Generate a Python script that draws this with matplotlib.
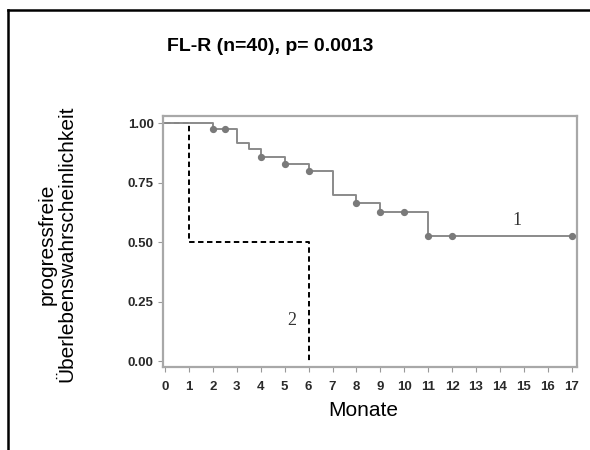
import matplotlib
matplotlib.use("Agg")
import matplotlib.pyplot as plt
from matplotlib.lines import Line2D

# Kaplan-Meier estimates, group 1
g1_times = [0, 2, 3, 3.5, 4, 5, 6, 7, 8, 9, 11, 17]
g1_surv = [1.00, 0.974, 0.918, 0.889, 0.858, 0.829, 0.800, 0.697, 0.665, 0.628, 0.526, 0.526]
g1_censor_t = [2, 2.5, 4, 5, 6, 8, 9, 10, 11, 12, 17]

# group 2
g2_times = [0, 1, 6]
g2_surv = [1.00, 0.50, 0.00]

title = "FL-R (n=40), p= 0.0013"
xticks = list(range(0, 18))
yticks = [0.00, 0.25, 0.50, 0.75, 1.00]


def step_value(times, surv, t):
    v = surv[0]
    for ti, si in zip(times, surv):
        if ti <= t:
            v = si
    return v


plt.rcParams['font.family'] = ['Liberation Sans', 'DejaVu Sans']

fig = plt.figure(figsize=(5.9, 4.5), dpi=100)
ax = fig.add_axes([0.2763, 0.1844, 0.978 - 0.2763, 0.742 - 0.1844])

gray = "#8a8a8a"
ax.step(g1_times, g1_surv, where="post", color=gray, lw=1.4, zorder=3)
ax.plot(g1_censor_t, [step_value(g1_times, g1_surv, t) for t in g1_censor_t],
        "o", ms=4.2, color="#7a7a7a", zorder=4)

ax.step(g2_times + [6], g2_surv + [0.0], where="post", color="black",
        lw=1.4, ls=(0, (2.8, 1.8)), zorder=2)

ax.text(14.7, 0.59, "1", fontsize=13, family="Liberation Serif",
        color="#333333", ha="center", va="center")
ax.text(5.3, 0.17, "2", fontsize=13, family="Liberation Serif",
        color="#333333", ha="center", va="center")

ax.set_xlim(-0.084, 17.22)
ax.set_ylim(-0.025, 1.029)
ax.set_xticks(xticks)
ax.set_xticklabels([str(x) for x in xticks])
ax.set_yticks(yticks)
ax.set_yticklabels([f"{y:.2f}" for y in yticks])
for lab in ax.get_xticklabels() + ax.get_yticklabels():
    lab.set_fontsize(9.5)
    lab.set_fontweight("bold")
    lab.set_color("#2a2a2a")
ax.tick_params(length=3.8, width=0.8, color="#999999")
ax.tick_params(axis="y", pad=3)
ax.tick_params(axis="x", pad=6)

for s in ax.spines.values():
    s.set_color("#a8a8a8")
    s.set_linewidth(1.6)

fig.text(0.615, 0.088, "Monate", fontsize=15, ha="center", va="center")
fig.text(0.0966, 0.458, "progressfreie\nÜberlebenswahrscheinlichkeit",
         fontsize=15, rotation=90, ha="center", va="center",
         multialignment="center", linespacing=1.05)

fig.text(0.458, 0.896, title, fontsize=14, fontweight="bold",
         ha="center", va="center")

# outer frame: top and left edges
fig.add_artist(Line2D([0.0136, 1.0], [0.978, 0.978], color="black", lw=1.8,
                      transform=fig.transFigure))
fig.add_artist(Line2D([0.0136, 0.0136], [0.0, 0.978], color="black", lw=1.8,
                      transform=fig.transFigure))

fig.savefig("out.png", dpi=100)
